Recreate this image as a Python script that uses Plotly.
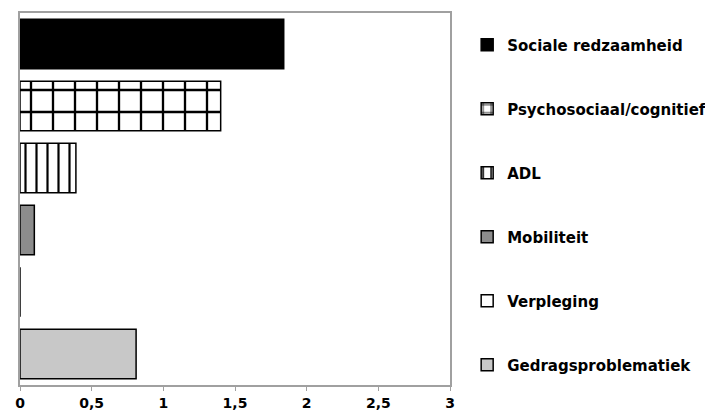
import plotly.graph_objects as go

categories = ["Sociale redzaamheid", "Psychosociaal/cognitief", "ADL",
              "Mobiliteit", "Verpleging", "Gedragsproblematiek"]
values = [1.84, 1.40, 0.39, 0.10, 0.0, 0.81]
colors = ["#000000", "#ffffff", "#ffffff", "#8c8c8c", "#ffffff", "#c8c8c8"]
patterns = ["", "+", "|", "", "", ""]
pattern_sizes = [8, 22, 11, 8, 8, 8]

tick_vals = [0, 0.5, 1, 1.5, 2, 2.5, 3]
tick_text = ["0", "0,5", "1", "1,5", "2", "2,5", "3"]

fig = go.Figure()
for i, cat in enumerate(categories):
    fig.add_trace(go.Bar(
        y=[cat], x=[values[i]], orientation="h", name=cat,
        legendgroup=cat,
        marker=dict(color=colors[i], line=dict(color="black", width=1.5),
                    pattern=dict(shape=patterns[i], size=pattern_sizes[i],
                                 fgcolor="black", bgcolor="white",
                                 fgopacity=1, solidity=0.2,
                                 fillmode="overlay")),
        width=0.8,
    ))

# page body adds ~8px offset, margins compensate for that
fig.update_layout(
    width=713, height=418,
    margin=dict(l=12, r=271, t=5, b=41, autoexpand=False),
    plot_bgcolor="white", paper_bgcolor="white",
    barmode="overlay",
    font=dict(family="DejaVu Sans", color="black"),
    xaxis=dict(range=[0, 3], tickvals=tick_vals, ticktext=tick_text,
               showgrid=False, zeroline=False, showline=True, mirror=True,
               linecolor="#a0a0a0", linewidth=1.5, ticks="outside",
               ticklen=4, tickcolor="#a0a0a0",
               tickfont=dict(size=14, weight="bold")),
    yaxis=dict(categoryorder="array", categoryarray=categories[::-1],
               range=[-0.5, 5.5], showticklabels=False, showgrid=False,
               zeroline=False, showline=True, mirror=True,
               linecolor="#a0a0a0", linewidth=1.5),
    legend=dict(xref="container", yref="container", x=0.644, y=0.951,
                xanchor="left", yanchor="top", traceorder="grouped",
                tracegroupgap=41.5, itemwidth=30, maxheight=1,
                font=dict(size=15, weight="bold")),
)

fig.write_html("out.html")
